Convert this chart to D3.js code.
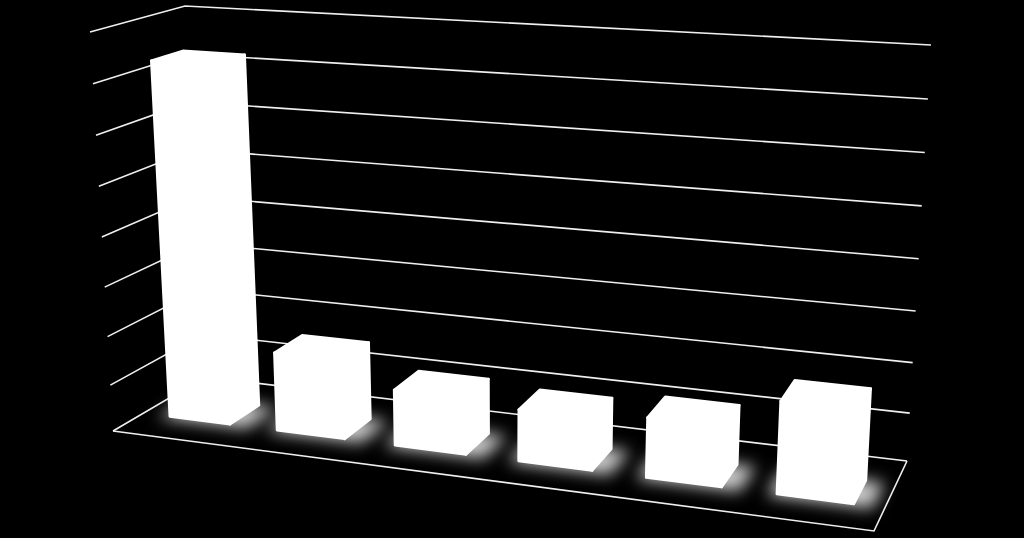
<!DOCTYPE html>
<html>
<head>
<meta charset="utf-8">
<script src="https://cdnjs.cloudflare.com/ajax/libs/d3/7.8.5/d3.min.js"></script>
<style>
html, body { margin: 0; padding: 0; background: #000; }
svg { display: block; }
</style>
</head>
<body>
<svg id="chart"></svg>
<script>
// values, the axis labels are black on black so the units are a guess
let categories = ["1", "2", "3", "4", "5", "6"]
let values = [7.3, 1.66, 1.18, 1.08, 1.23, 1.84]
let tickValues = [0, 1, 2, 3, 4, 5, 6, 7, 8]

const width = 1024
const height = 538

// corners of the 3d box as they land on the page: [x, y]
const box = {
    frontBottomLeft: [113, 431], frontBottomRight: [874, 531],
    backBottomLeft: [205, 377], backBottomRight: [907, 461],
    frontTopLeft: [90, 32], frontTopRight: [898, 87],
    backTopLeft: [185, 6], backTopRight: [931, 45]
}

let lerp = (a, b, t) => [a[0] + (b[0] - a[0]) * t, a[1] + (b[1] - a[1]) * t]

// u along the categories, v up the value axis, w into the depth (all 0..1)
let project = (u, v, w) => {
    let bottom = lerp(
        lerp(box.frontBottomLeft, box.frontBottomRight, u),
        lerp(box.backBottomLeft, box.backBottomRight, u), w)
    let top = lerp(
        lerp(box.frontTopLeft, box.frontTopRight, u),
        lerp(box.backTopLeft, box.backTopRight, u), w)
    return lerp(bottom, top, v)
}

// perspective squeezes the far end a little, hence the pow scales
let xBand = d3.scaleBand().domain(categories).range([0, 1]).paddingInner(0.42).paddingOuter(0.21)
let xDepth = d3.scalePow().exponent(1.1).domain([0, 1]).range([0.011, 0.996])
let yScale = d3.scalePow().exponent(1.04).domain([0, 8]).range([0, 1])
let zScale = d3.scaleLinear().domain([0, 1]).range([0.33, 0.67])

let line = d3.line()

let canvas = d3.select("#chart")
    .attr("width", width)
    .attr("height", height)

canvas.append("rect")
    .attr("width", width)
    .attr("height", height)
    .attr("fill", "#000")

let defs = canvas.append("defs")
defs.append("filter")
    .attr("id", "glow")
    .attr("x", "-40%").attr("y", "-80%")
    .attr("width", "180%").attr("height", "260%")
    .append("feGaussianBlur")
    .attr("stdDeviation", 8)

// back wall and left wall grid lines
let grid = canvas.append("g")
    .attr("fill", "none")
    .attr("stroke", "#efefef")
    .attr("stroke-width", 1.6)

grid.selectAll("path.grid")
    .data(tickValues)
    .enter()
    .append("path")
    .attr("class", "grid")
    .attr("d", (tick) => {
        let v = yScale(tick)
        return line([project(0, v, 0), project(0, v, 1), project(1, v, 1)])
    })

// front and right edge of the floor
grid.append("path")
    .attr("d", line([project(0, 0, 0), project(1, 0, 0), project(1, 0, 1)]))

let barData = categories.map((category, i) => {
    return { category: category, value: values[i] }
})

let uRange = (d) => {
    let start = xBand(d.category)
    return [xDepth(start), xDepth(start + xBand.bandwidth())]
}

// soft glow on the floor under each bar
canvas.append("g")
    .selectAll("path")
    .data(barData)
    .enter()
    .append("path")
    .attr("filter", "url(#glow)")
    .attr("fill", "#cccccc")
    .attr("d", (d) => {
        let [u0, u1] = uRange(d)
        let w0 = zScale(-0.1)
        let w1 = zScale(1)
        return line([
            project(u0 - 0.012, 0, w0), project(u1 + 0.026, 0, w0),
            project(u1 + 0.026, 0, w1), project(u0 - 0.012, 0, w1)
        ]) + "Z"
    })

// bars, three faces each, all of them pure white
let bars = canvas.append("g")
    .selectAll("g")
    .data(barData)
    .enter()
    .append("g")
    .attr("fill", "#fff")
    .attr("stroke", "#fff")
    .attr("stroke-width", 2.5)
    .attr("stroke-linejoin", "round")

bars.append("path")
    .attr("class", "side")
    .attr("d", (d) => {
        let [u0, u1] = uRange(d)
        let v = yScale(d.value)
        let w0 = zScale(0)
        let w1 = zScale(1)
        return line([project(u1, 0, w0), project(u1, 0, w1), project(u1, v, w1), project(u1, v, w0)]) + "Z"
    })

bars.append("path")
    .attr("class", "top")
    .attr("d", (d) => {
        let [u0, u1] = uRange(d)
        let v = yScale(d.value)
        let w0 = zScale(0)
        let w1 = zScale(1)
        return line([project(u0, v, w0), project(u1, v, w0), project(u1, v, w1), project(u0, v, w1)]) + "Z"
    })

bars.append("path")
    .attr("class", "front")
    .attr("d", (d) => {
        let [u0, u1] = uRange(d)
        let v = yScale(d.value)
        let w0 = zScale(0)
        return line([project(u0, 0, w0), project(u1, 0, w0), project(u1, v, w0), project(u0, v, w0)]) + "Z"
    })
</script>
</body>
</html>
